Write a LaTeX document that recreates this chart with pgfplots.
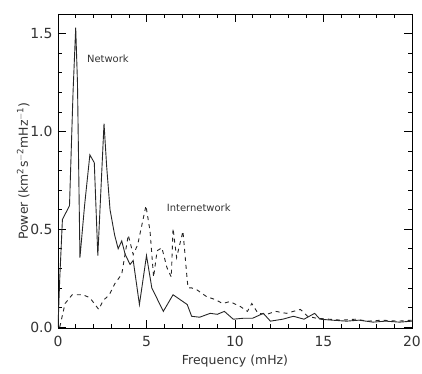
\documentclass[border=0pt]{standalone}
\usepackage{pgfplots}
\pgfplotsset{compat=1.18}
\usepackage{fontspec}
\setmainfont{DejaVu Sans}
\usetikzlibrary{calc}
\begin{document}
\begin{tikzpicture}
\begin{axis}[
  width=354bp, height=314bp, scale only axis,
  xmin=0, xmax=20, ymin=-0.005, ymax=1.60,
  xtick={0,5,10,15,20}, minor x tick num=4,
  ytick={0,0.5,1.0,1.5}, minor y tick num=4,
  /pgf/number format/assume math mode=true,
  tick align=inside, major tick length=8bp, minor tick length=4bp,
  tick style={black, line width=0.6pt},
  axis line style={line width=0.8pt},
  ticklabel style={font=\fontsize{14}{14}\selectfont, text=black!80},
  xticklabel style={/pgf/number format/fixed, /pgf/number format/precision=0, yshift=-5bp},
  yticklabel style={/pgf/number format/fixed, /pgf/number format/fixed zerofill, /pgf/number format/precision=1, xshift=-2bp},
  label style={font=\fontsize{12.5}{12.5}\selectfont, text=black!80},
  xlabel={Frequency (mHz)},
  ylabel={Power (km\textsuperscript{2}s\textsuperscript{$-$2}mHz\textsuperscript{$-$1})},
  xlabel style={yshift=-1bp},
  ylabel style={yshift=-6bp},
]
% Network (solid)
\addplot[black!85, line width=0.9pt] coordinates {
(0.0,0.0) (0.1,0.25) (0.25,0.55) (0.65,0.62) (0.85,1.2) (1.0,1.53) (1.1,1.25) (1.24,0.355) (1.5,0.62) (1.8,0.88) (2.05,0.84) (2.25,0.365)
(2.45,0.75) (2.6,1.04) (2.75,0.82) (2.94,0.6) (3.2,0.47) (3.4,0.40) (3.6,0.44) (3.8,0.37) (4.07,0.32) (4.25,0.34)
(4.6,0.115) (5.0,0.365) (5.3,0.2) (5.95,0.08) (6.5,0.165) (7.3,0.115) (7.55,0.055) (8.0,0.05) (8.6,0.07)
(9.0,0.065) (9.4,0.08) (9.9,0.04) (10.5,0.045) (11.0,0.045) (11.6,0.07) (12.0,0.03) (12.7,0.04) (13.3,0.055)
(13.9,0.04) (14.5,0.07) (14.8,0.04) (15.5,0.035) (16.3,0.03) (17.0,0.035) (17.8,0.025) (18.5,0.03) (19.3,0.025) (20.0,0.03)
};
% Internetwork (dashed)
\addplot[black!85, line width=0.9pt, dash pattern=on 4bp off 4bp] coordinates {
(0.1,0.0) (0.4,0.12) (0.8,0.165) (1.4,0.165) (1.8,0.15) (2.3,0.09) (2.55,0.135) (2.9,0.165) (3.2,0.22)
(3.6,0.27) (3.97,0.47) (4.25,0.37) (4.5,0.42) (4.97,0.62) (5.2,0.49) (5.4,0.255) (5.6,0.39) (5.87,0.405)
(6.15,0.305) (6.4,0.255) (6.5,0.505) (6.7,0.355) (7.06,0.49) (7.3,0.24) (7.35,0.2) (7.55,0.2) (7.85,0.19)
(8.4,0.155) (8.9,0.14) (9.3,0.12) (9.7,0.13) (10.3,0.105) (10.7,0.08) (10.95,0.12) (11.3,0.07) (11.8,0.065)
(12.3,0.08) (12.9,0.07) (13.7,0.09) (14.1,0.055) (14.6,0.045) (15.3,0.04) (16.0,0.035) (16.8,0.04) (17.5,0.03) (18.3,0.035) (19.2,0.03) (20.0,0.035)
};
\node[font=\fontsize{10}{10}\selectfont, text=black!80] at (axis cs:2.82,1.37) {Network};
\node[font=\fontsize{10}{10}\selectfont, text=black!80] at (axis cs:7.95,0.61) {Internetwork};
\end{axis}
\pgfresetboundingbox
\path ($(current axis.south west)+(-58bp,-46bp)$) rectangle ($(current axis.north east)+(10bp,14bp)$);
\end{tikzpicture}
\end{document}
